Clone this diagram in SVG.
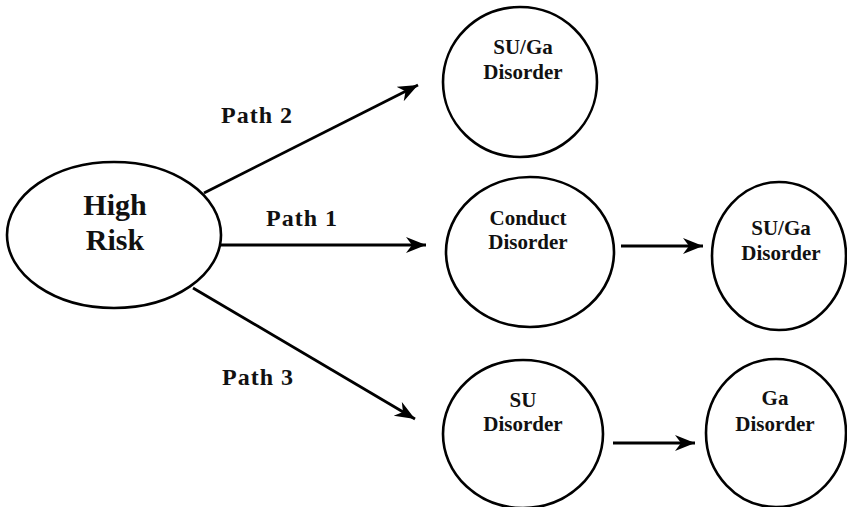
<svg xmlns="http://www.w3.org/2000/svg" width="847" height="507" viewBox="0 0 847 507">
<style>
.node{fill:#fff;stroke:#000;stroke-width:2.6}
.t{font-family:"Liberation Serif","Times New Roman",serif;font-weight:bold;fill:#111;text-anchor:middle}
.n{font-size:21px}
.hr{font-size:30px}
.p{font-size:24px;letter-spacing:1px;text-anchor:start}
.c{stroke:#000;stroke-width:2.8;fill:none;marker-end:url(#ah)}
</style>
<defs>
<marker id="ah" markerUnits="userSpaceOnUse" markerWidth="22" markerHeight="18" refX="20" refY="8" orient="auto">
<path d="M0,0 L20,8 L0,16 L6,8 z" fill="#000"/>
</marker>
</defs>
<g id="connectors">
<line class="c" x1="204" y1="193" x2="418" y2="85"/>
<line class="c" x1="221" y1="245" x2="426" y2="245"/>
<line class="c" x1="193" y1="288" x2="415" y2="419"/>
<line class="c" x1="621" y1="246" x2="703" y2="246"/>
<line class="c" x1="613" y1="443" x2="695" y2="443"/>
</g>
<g id="labels">
<text class="t p" x="221" y="123">Path 2</text>
<text class="t p" x="266" y="226">Path 1</text>
<text class="t p" x="222" y="385">Path 3</text>
</g>
<g id="high-risk">
<ellipse class="node" cx="114" cy="235" rx="107" ry="73"/>
<text class="t hr" x="115" y="215">High</text>
<text class="t hr" x="115" y="250">Risk</text>
</g>
<g id="sugap2">
<ellipse class="node" cx="520" cy="82" rx="77" ry="75"/>
<text class="t n" x="523" y="54">SU/Ga</text>
<text class="t n" x="523" y="79">Disorder</text>
</g>
<g id="conduct">
<ellipse class="node" cx="530" cy="252" rx="84" ry="75"/>
<text class="t n" x="528" y="225">Conduct</text>
<text class="t n" x="528" y="249">Disorder</text>
</g>
<g id="sugap1">
<ellipse class="node" cx="779" cy="256" rx="67" ry="74"/>
<text class="t n" x="781" y="235">SU/Ga</text>
<text class="t n" x="781" y="260">Disorder</text>
</g>
<g id="su">
<ellipse class="node" cx="523" cy="434" rx="80" ry="74"/>
<text class="t n" x="523" y="407">SU</text>
<text class="t n" x="523" y="431">Disorder</text>
</g>
<g id="ga">
<ellipse class="node" cx="776" cy="433" rx="70" ry="74"/>
<text class="t n" x="775" y="405">Ga</text>
<text class="t n" x="775" y="431">Disorder</text>
</g>
</svg>
